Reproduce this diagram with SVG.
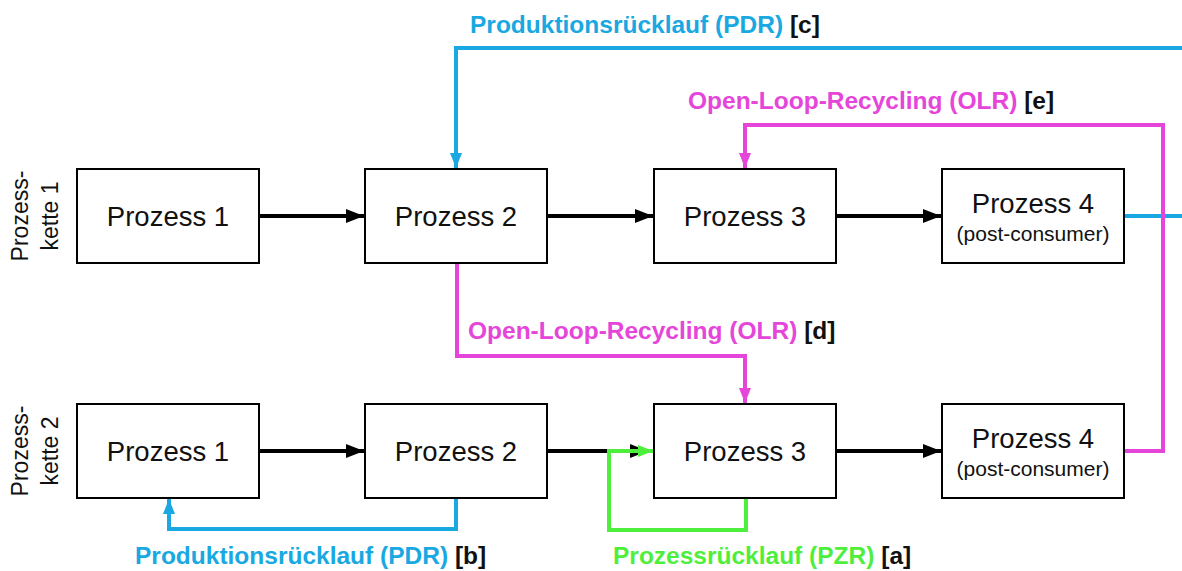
<svg xmlns="http://www.w3.org/2000/svg" width="1182" height="571" viewBox="0 0 1182 571">
  <style>
    .box { fill: #ffffff; stroke: #000000; stroke-width: 2; }
    .name { font-family: "Liberation Sans", Arial, sans-serif; font-size: 27.5px; fill: #111111; text-anchor: middle; }
    .sub { font-family: "Liberation Sans", Arial, sans-serif; font-size: 21px; fill: #111111; text-anchor: middle; }
    .chain { font-family: "Liberation Sans", Arial, sans-serif; font-size: 23px; fill: #111111; text-anchor: middle; }
    .lbl { font-family: "Liberation Sans", Arial, sans-serif; font-size: 24.5px; font-weight: bold; }
    .tag { fill: #111111; }
    .flow { fill: none; stroke: #000000; stroke-width: 4; }
    .pdr { fill: none; stroke: #1AA8E2; stroke-width: 4; }
    .olr { fill: none; stroke: #E546D9; stroke-width: 4; }
    .pzr { fill: none; stroke: #4EEF3C; stroke-width: 4; }
  </style>
  <defs>
    <marker id="hBlack" markerUnits="userSpaceOnUse" markerWidth="19" markerHeight="16" refX="18" refY="8" orient="auto">
      <path d="M0,1 L18,8 L0,15 Z" fill="#000000"/>
    </marker>
    <marker id="hBlue" markerUnits="userSpaceOnUse" markerWidth="18" markerHeight="16" refX="15" refY="8" orient="auto">
      <path d="M0,2 L15,8 L0,14 Z" fill="#1AA8E2"/>
    </marker>
    <marker id="hPink" markerUnits="userSpaceOnUse" markerWidth="18" markerHeight="16" refX="15" refY="8" orient="auto">
      <path d="M0,2 L15,8 L0,14 Z" fill="#E546D9"/>
    </marker>
    <marker id="hGreen" markerUnits="userSpaceOnUse" markerWidth="18" markerHeight="16" refX="15" refY="8" orient="auto">
      <path d="M0,2 L15,8 L0,14 Z" fill="#4EEF3C"/>
    </marker>
  </defs>

  <!-- chain labels -->
  <g id="chain1">
    <text class="chain" transform="translate(28,216) rotate(-90)">Prozess-</text>
    <text class="chain" transform="translate(58,216) rotate(-90)">kette 1</text>
  </g>
  <g id="chain2">
    <text class="chain" transform="translate(28,451) rotate(-90)">Prozess-</text>
    <text class="chain" transform="translate(58,451) rotate(-90)">kette 2</text>
  </g>

  <!-- connectors -->
  <g id="connectors">
    <!-- main flow, chain 1 -->
    <line class="flow" x1="259" y1="216" x2="364" y2="216" marker-end="url(#hBlack)"/>
    <line class="flow" x1="547" y1="216" x2="653" y2="216" marker-end="url(#hBlack)"/>
    <line class="flow" x1="836" y1="216" x2="941" y2="216" marker-end="url(#hBlack)"/>
    <!-- main flow, chain 2 -->
    <line class="flow" x1="259" y1="451" x2="364" y2="451" marker-end="url(#hBlack)"/>
    <line class="flow" x1="547" y1="451" x2="648" y2="451" marker-end="url(#hBlack)"/>
    <line class="flow" x1="836" y1="451" x2="941" y2="451" marker-end="url(#hBlack)"/>

    <!-- [c] production return to chain 1, process 2 -->
    <polyline class="pdr" points="1182,48 456,48 456,168" marker-end="url(#hBlue)"/>
    <line class="pdr" x1="1124" y1="216" x2="1182" y2="216"/>

    <!-- [e] open-loop recycling into chain 1, process 3 -->
    <polyline class="olr" points="1124,451 1163,451 1163,125 745,125 745,168" marker-end="url(#hPink)"/>

    <!-- [d] open-loop recycling into chain 2, process 3 -->
    <polyline class="olr" points="457,263 457,356 745,356 745,403" marker-end="url(#hPink)"/>

    <!-- [b] production return within chain 2 -->
    <polyline class="pdr" points="456,498 456,529 169,529 169,499" marker-end="url(#hBlue)"/>

    <!-- [a] process return -->
    <polyline class="pzr" points="746,498 746,530 609,530 609,451 653,451" marker-end="url(#hGreen)"/>
  </g>

  <!-- chain 1 processes -->
  <g id="k1p1">
    <rect class="box" x="77" y="169" width="182" height="94"/>
    <text class="name" x="168" y="226">Prozess 1</text>
  </g>
  <g id="k1p2">
    <rect class="box" x="365" y="169" width="182" height="94"/>
    <text class="name" x="456" y="226">Prozess 2</text>
  </g>
  <g id="k1p3">
    <rect class="box" x="654" y="169" width="182" height="94"/>
    <text class="name" x="745" y="226">Prozess 3</text>
  </g>
  <g id="k1p4">
    <rect class="box" x="942" y="169" width="182" height="94"/>
    <text class="name" x="1033" y="213">Prozess 4</text>
    <text class="sub" x="1033" y="241">(post-consumer)</text>
  </g>

  <!-- chain 2 processes -->
  <g id="k2p1">
    <rect class="box" x="77" y="404" width="182" height="94"/>
    <text class="name" x="168" y="461">Prozess 1</text>
  </g>
  <g id="k2p2">
    <rect class="box" x="365" y="404" width="182" height="94"/>
    <text class="name" x="456" y="461">Prozess 2</text>
  </g>
  <g id="k2p3">
    <rect class="box" x="654" y="404" width="182" height="94"/>
    <text class="name" x="745" y="461">Prozess 3</text>
  </g>
  <g id="k2p4">
    <rect class="box" x="942" y="404" width="182" height="94"/>
    <text class="name" x="1033" y="448">Prozess 4</text>
    <text class="sub" x="1033" y="476">(post-consumer)</text>
  </g>

  <!-- flow labels -->
  <g id="labels">
    <text class="lbl" x="470" y="33" fill="#1AA8E2">Produktionsrücklauf (PDR) <tspan class="tag">[c]</tspan></text>
    <text class="lbl" x="688" y="109" fill="#E546D9">Open-Loop-Recycling (OLR) <tspan class="tag">[e]</tspan></text>
    <text class="lbl" x="468" y="339" fill="#E546D9">Open-Loop-Recycling (OLR) <tspan class="tag">[d]</tspan></text>
    <text class="lbl" x="135" y="564" fill="#1AA8E2">Produktionsrücklauf (PDR) <tspan class="tag">[b]</tspan></text>
    <text class="lbl" x="613" y="564" fill="#4EEF3C">Prozessrücklauf (PZR) <tspan class="tag">[a]</tspan></text>
  </g>
</svg>
